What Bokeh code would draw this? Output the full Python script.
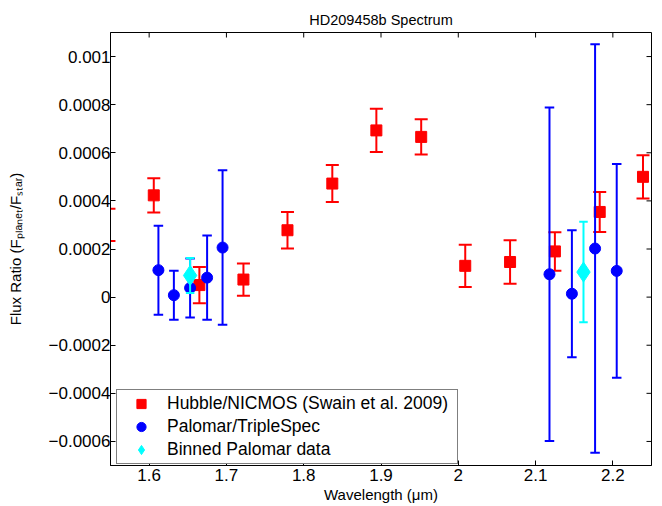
import numpy as np
from bokeh.plotting import figure
from bokeh.models import (ColumnDataSource, FixedTicker, Range1d, Legend,
                          LegendItem, CDSView, BooleanFilter)
from bokeh.embed import file_html
from bokeh.resources import INLINE

# ---------------- data ----------------
# Hubble/NICMOS (Swain et al. 2009)
nic_wl = [1.548, 1.606, 1.665, 1.722, 1.779, 1.837, 1.894, 1.952, 2.009,
          2.067, 2.125, 2.183, 2.239]
nic_flux = [0.000300, 0.000423, 0.000050, 0.000073, 0.000278, 0.000472,
            0.000693, 0.000666, 0.000130, 0.000146, 0.000190, 0.000354,
            0.000500]
nic_err = [0.000067, 0.000071, 0.000075, 0.000067, 0.000076, 0.000077,
           0.000090, 0.000073, 0.000088, 0.000090, 0.000080, 0.000083,
           0.000090]

# Palomar/TripleSpec
tsp_wl = [1.612, 1.632, 1.653, 1.675, 1.695, 2.118, 2.147, 2.177, 2.205]
tsp_flux = [0.000112, 0.000008, 0.000038, 0.000081, 0.000206, 0.000095,
            0.000014, 0.000202, 0.000109]
tsp_err = [0.000185, 0.000102, 0.000123, 0.000175, 0.000321, 0.000693,
           0.000264, 0.000849, 0.000444]

# Binned Palomar data
bin_wl = [1.653, 2.162]
bin_flux = [0.000090, 0.000104]
bin_err = [0.000073, 0.000209]

x_ticks = [1.6, 1.7, 1.8, 1.9, 2.0, 2.1, 2.2]
x_tick_labels = ["1.6", "1.7", "1.8", "1.9", "2", "2.1", "2.2"]
y_ticks = [-0.0006, -0.0004, -0.0002, 0.0, 0.0002, 0.0004, 0.0006, 0.0008, 0.001]
y_tick_labels = ["\u22120.0006", "\u22120.0004", "\u22120.0002", "0", "0.0002",
                 "0.0004", "0.0006", "0.0008", "0.001"]

title_text = "HD209458b Spectrum"
x_label = "Wavelength (\u03bcm)"
y_label = "Flux Ratio (F\u209a\u2097\u2090\u2099\u2091\u209c/F\u209b\u209c\u2090\u1d63)"
legend_labels = ["Hubble/NICMOS (Swain et al. 2009)", "Palomar/TripleSpec",
                 "Binned Palomar data"]

FONT = "Liberation Sans"
X0, X1 = 1.55, 2.25
Y0, Y1 = -0.0007, 0.0011

p = figure(width=662, height=506, output_backend="svg", toolbar_location=None,
           x_range=Range1d(X0, X1), y_range=Range1d(Y0, Y1),
           min_border_left=110, min_border_right=11, min_border_top=32,
           min_border_bottom=41)
p.background_fill_color = "white"
p.border_fill_color = "white"
p.outline_line_color = "black"
p.outline_line_width = 1
p.xgrid.visible = False
p.ygrid.visible = False

p.title.text = title_text
p.title.align = "center"
p.title.text_font = FONT
p.title.text_font_size = "14.5px"
p.title.text_font_style = "normal"
p.title.text_color = "black"
p.title.standoff = 10


def style_axis(ax, ticks, labels, standoff):
    ax.ticker = FixedTicker(ticks=ticks)
    ax.major_label_overrides = dict(zip(ticks, labels))
    ax.major_tick_in = 5
    ax.major_tick_out = 0
    ax.minor_tick_in = 0
    ax.minor_tick_out = 0
    ax.axis_line_color = "black"
    ax.major_tick_line_color = "black"
    ax.major_label_text_font = FONT
    ax.major_label_text_font_size = "17px"
    ax.major_label_text_color = "black"
    ax.major_label_standoff = standoff


xa = p.xaxis[0]
ya = p.yaxis[0]
style_axis(xa, x_ticks, x_tick_labels, 3)
style_axis(ya, y_ticks, y_tick_labels, 0)

xa.axis_label = x_label
xa.axis_label_text_font = FONT
xa.axis_label_text_font_size = "15px"
xa.axis_label_text_font_style = "normal"
xa.axis_label_text_color = "black"
xa.axis_label_standoff = 2

ya.axis_label = y_label
ya.axis_label_text_font = FONT
ya.axis_label_text_font_size = "15px"
ya.axis_label_text_font_style = "normal"
ya.axis_label_text_color = "black"
ya.axis_label_standoff = 22

# inward ticks on the top and right edges of the box (half of each dash is
# clipped away by the frame, leaving a 5 px tick inside)
p.scatter(x=x_ticks, y=[Y1] * len(x_ticks), marker="dash", angle=np.pi / 2,
          size=10, line_color="black", line_width=1)
p.scatter(x=[X1] * len(y_ticks), y=y_ticks, marker="dash", size=10,
          line_color="black", line_width=1)


def series(wl, fl, er, color, marker, size, cap):
    src = ColumnDataSource(dict(
        x=wl, y=fl,
        lo=[f - e for f, e in zip(fl, er)],
        hi=[f + e for f, e in zip(fl, er)]))
    p.segment(x0="x", y0="lo", x1="x", y1="hi", source=src,
              line_color=color, line_width=2)
    p.scatter(x="x", y="hi", marker="dash", size=cap, source=src,
              line_color=color, line_width=2)
    p.scatter(x="x", y="lo", marker="dash", size=cap, source=src,
              line_color=color, line_width=2)
    # markers whose centre lies outside the axes are not drawn
    inside = [X0 <= v <= X1 for v in wl]
    r = p.scatter(x="x", y="y", marker=marker, size=size, source=src,
                  view=CDSView(filter=BooleanFilter(inside)),
                  fill_color=color, line_color=color, line_width=1)
    return r


r_nic = series(nic_wl, nic_flux, nic_err, "#ff0000", "square", 11, 13)
r_tsp = series(tsp_wl, tsp_flux, tsp_err, "#0000ff", "circle", 11, 9.5)
r_bin = series(bin_wl, bin_flux, bin_err, "#00ffff", "diamond", 20, 8.5)

legend = Legend(items=[LegendItem(label=legend_labels[0], renderers=[r_nic]),
                       LegendItem(label=legend_labels[1], renderers=[r_tsp]),
                       LegendItem(label=legend_labels[2], renderers=[r_bin])],
                location=(6, 1))
legend.margin = 0
legend.padding = 2
legend.spacing = 0
legend.glyph_width = 44
legend.glyph_height = 23
legend.label_height = 23
legend.label_width = 288
legend.label_standoff = 4
legend.label_text_font = FONT
legend.label_text_font_size = "17.5px"
legend.label_text_color = "black"
legend.border_line_color = "black"
legend.border_line_width = 1
legend.background_fill_color = "white"
legend.background_fill_alpha = 1.0
p.add_layout(legend)

open("out.html", "w").write(file_html(p, INLINE))
